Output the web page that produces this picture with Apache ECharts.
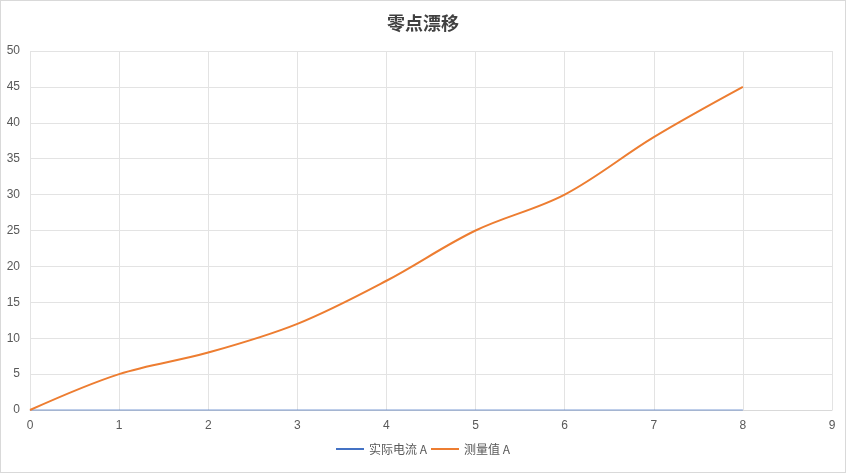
<!doctype html>
<html>
<head>
<meta charset="utf-8">
<title>零点漂移</title>
<style>
  html, body { margin: 0; padding: 0; background: #fff; }
  #main { width: 844px; height: 471px; border: 1px solid #d9d9d9; }
</style>
</head>
<body>
<div id="main"></div>
<script src="https://cdn.jsdelivr.net/npm/echarts@6/dist/echarts.min.js"></script>
<script>
var xValues = [0, 1, 2, 3, 4, 5, 6, 7, 8];
var actualCurrent = [0, 0, 0, 0, 0, 0, 0, 0, 0];
var measured = [0, 5, 8, 12, 18, 25, 30, 38, 45];

function pairs(ys) {
    return xValues.map(function (x, i) { return [x, ys[i]]; });
}

var chart = echarts.init(document.getElementById('main'));
var labelColor = '#595959';

chart.setOption({
    animation: false,
    title: {
        text: '零点漂移',
        left: 'center',
        top: 8,
        textStyle: { fontFamily: 'Noto Sans CJK SC', fontSize: 18, fontWeight: 'bold', color: '#404040' }
    },
    legend: {
        bottom: 12,
        itemWidth: 28,
        itemHeight: 2,
        itemGap: 4,
        icon: 'rect',
        textStyle: { color: labelColor, fontSize: 12, fontFamily: 'Noto Sans CJK SC' },
        data: ['实际电流 A', '测量值 A']
    },
    grid: { left: 29, right: 13, top: 50, bottom: 62 },
    xAxis: {
        type: 'value',
        min: 0, max: 9, interval: 1,
        axisLine: { lineStyle: { color: '#d9d9d9' } },
        axisTick: { show: false },
        axisLabel: { color: labelColor, fontSize: 12, margin: 10 },
        splitLine: { lineStyle: { color: '#e3e3e3' } }
    },
    yAxis: {
        type: 'value',
        min: 0, max: 50, interval: 5,
        axisLine: { show: false },
        axisTick: { show: false },
        axisLabel: { color: labelColor, fontSize: 12, margin: 10 },
        splitLine: { lineStyle: { color: '#e3e3e3' } }
    },
    series: [
        {
            name: '实际电流 A',
            type: 'line',
            data: pairs(actualCurrent),
            showSymbol: false,
            color: '#4472C4',
            lineStyle: { width: 2, opacity: 0.35 }
        },
        {
            name: '测量值 A',
            type: 'line',
            smooth: 0.35,
            data: pairs(measured),
            showSymbol: false,
            color: '#ED7D31',
            lineStyle: { width: 2 }
        }
    ]
});

window.addEventListener('resize', function () {
    chart.resize();
});
</script>
</body>
</html>
